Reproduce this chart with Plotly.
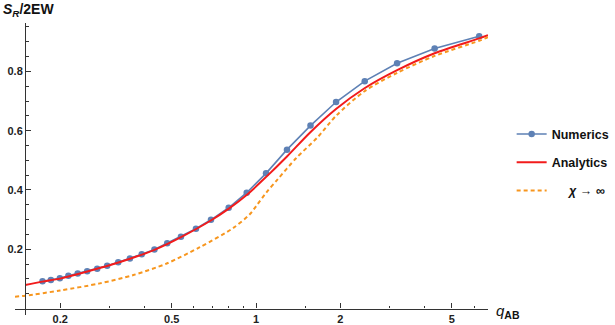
import math
import plotly.graph_objects as go

# ---- data ----
num_q = [0.173, 0.1853, 0.1995, 0.214, 0.231, 0.2497, 0.2712, 0.2943, 0.3223, 0.3548,
         0.391, 0.434, 0.482, 0.5397, 0.6105, 0.6907, 0.799, 0.9264, 1.086, 1.29,
         1.565, 1.931, 2.444, 3.188, 4.34, 6.26]
num_s = [0.092, 0.0964, 0.102, 0.1106, 0.1183, 0.126, 0.134, 0.1443, 0.156, 0.169,
         0.1834, 0.199, 0.220, 0.2424, 0.2694, 0.2994, 0.340, 0.3908, 0.456, 0.536,
         0.617, 0.6966, 0.767, 0.827, 0.877, 0.918]

ana_q = [0.15, 0.173, 0.2, 0.25, 0.3, 0.355, 0.434, 0.54, 0.69, 0.8, 0.926, 1.09,
         1.29, 1.56, 1.93, 2.44, 3.19, 4.34, 6.26, 6.73]
ana_s = [0.0796, 0.091, 0.101, 0.125, 0.146, 0.168, 0.198, 0.241, 0.297, 0.337, 0.383,
         0.445, 0.513, 0.594, 0.673, 0.743, 0.804, 0.861, 0.911, 0.922]

inf_q = [0.138, 0.15, 0.2, 0.277, 0.365, 0.48, 0.63, 0.83, 0.95, 1.0, 1.09, 1.19,
         1.39, 1.66, 1.93, 2.44, 3.19, 4.34, 6.26, 6.73]
inf_s = [0.040, 0.0435, 0.061, 0.085, 0.113, 0.152, 0.207, 0.272, 0.318, 0.345, 0.392,
         0.434, 0.507, 0.578, 0.650, 0.733, 0.795, 0.852, 0.903, 0.915]

x_major = [0.2, 0.5, 1, 2, 5]
x_major_labels = ["0.2", "0.5", "1", "2", "5"]
x_minor = [0.3, 0.4, 0.6, 0.7, 0.8, 0.9, 1.5, 3, 4, 6]
y_major = [0.2, 0.4, 0.6, 0.8]
y_minor = [0.05, 0.1, 0.15, 0.25, 0.3, 0.35, 0.45, 0.5, 0.55, 0.65, 0.7, 0.75, 0.85, 0.9, 0.95]

# ---- axis geometry ----
x_lo, x_hi = math.log10(0.138), math.log10(6.73)
y_lo, y_hi = -0.0216, 0.963
x_origin = 0.15
yaxis_pos = (math.log10(x_origin) - x_lo) / (x_hi - x_lo)
xaxis_pos = (0 - y_lo) / (y_hi - y_lo)

BLUE = "#5E81B5"
RED = "#F21B1B"
ORANGE = "#F7961E"
AX = "#333333"
FONT = "Liberation Sans, Arial, sans-serif"

fig = go.Figure()
fig.add_trace(go.Scatter(
    x=num_q, y=num_s, mode="lines+markers", name="<b>Numerics</b>",
    line=dict(color=BLUE, width=1.6), marker=dict(color=BLUE, size=6.5),
    legendgroup="a"))
fig.add_trace(go.Scatter(
    x=ana_q, y=ana_s, mode="lines", name="<b>Analytics</b>",
    line=dict(color=RED, width=2, shape="spline", smoothing=0.8), legendgroup="b"))
fig.add_trace(go.Scatter(
    x=inf_q, y=inf_s, mode="lines",
    name="&nbsp;&nbsp;&nbsp;&nbsp;&nbsp;<b><i>χ</i> → ∞</b>",
    line=dict(color=ORANGE, width=2, dash="4px,3px", shape="spline", smoothing=0.8),
    legendgroup="c"))

tickfont = dict(family=FONT, size=11, color="#222222")

fig.update_layout(
    width=615, height=325,
    margin=dict(l=15, r=127, t=23, b=10, autoexpand=False),
    paper_bgcolor="white", plot_bgcolor="white",
    showlegend=True,
    legend=dict(x=1.05, y=0.67, xanchor="left", yanchor="top",
                font=dict(family=FONT, size=12.5, color="#111111"),
                tracegroupgap=9, bgcolor="rgba(0,0,0,0)"),
    xaxis=dict(type="log", range=[x_lo, x_hi], anchor="free", position=xaxis_pos,
               automargin=False,
               showgrid=False, zeroline=False, showline=True, linecolor=AX, linewidth=1.3,
               tickmode="array", tickvals=x_major,
               ticktext=["<b>%s</b>" % t for t in x_major_labels],
               ticks="inside", ticklen=5, tickwidth=1.2, tickcolor=AX, tickfont=tickfont,
               minor=dict(tickmode="array", tickvals=x_minor, ticks="inside",
                          ticklen=2.5, tickwidth=1, tickcolor=AX)),
    yaxis=dict(range=[y_lo, y_hi], anchor="free", position=yaxis_pos,
               automargin=False,
               showgrid=False, zeroline=False, showline=True, linecolor=AX, linewidth=1.3,
               tickmode="array", tickvals=y_major,
               ticktext=["<b>%.1f</b>" % v for v in y_major],
               ticks="inside", ticklen=5, tickwidth=1.2, tickcolor=AX, tickfont=tickfont,
               minor=dict(tickmode="array", tickvals=y_minor, ticks="inside",
                          ticklen=3, tickwidth=1, tickcolor=AX)),
)

fig.add_annotation(
    xref="paper", yref="paper", x=-0.03, y=1.0, xanchor="left", yanchor="bottom",
    yshift=2, showarrow=False,
    text="<b><i>S</i></b><sub><b><i>R</i></b></sub><b>/2EW</b>",
    font=dict(family=FONT, size=14, color="#111111"))
fig.add_annotation(
    xref="paper", yref="paper", x=1.0, y=xaxis_pos, xanchor="left", yanchor="middle",
    xshift=6, yshift=-3, showarrow=False,
    text="<i>q</i><sub><b>AB</b></sub>",
    font=dict(family=FONT, size=15, color="#111111"))

fig.write_html(
    "out.html",
    config={"displayModeBar": False},
    post_script="document.body.style.margin='0';document.body.style.padding='0';"
                "document.documentElement.style.overflow='hidden';",
)
